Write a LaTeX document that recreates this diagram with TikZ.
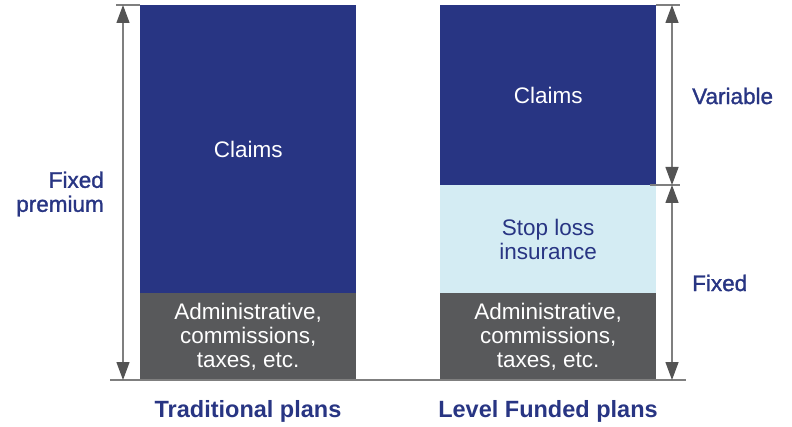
\documentclass[tikz,border=0pt]{standalone}
\usepackage{fontspec}
\setmainfont{Liberation Sans}
\newfontfamily\mediumfont[BoldFont={Liberation Sans}, BoldFeatures={FakeBold=1.3}]{Liberation Sans}
\usetikzlibrary{arrows.meta}

\definecolor{navy}{HTML}{283583}
\definecolor{slate}{HTML}{58595B}
\definecolor{pale}{HTML}{D4ECF3}
\definecolor{rulegray}{HTML}{7F7F7F}
\definecolor{tipgray}{HTML}{545454}

\begin{document}
\begin{tikzpicture}[x=1pt,y=-1pt,
  bar/.style={rectangle, inner sep=0pt, minimum width=216pt, anchor=north west, align=center, font=\fontsize{22.5}{24}\selectfont},
  side/.style={inner sep=0pt, text=navy, font=\mediumfont\bfseries\fontsize{22.5}{24}\selectfont},
  plan/.style={inner sep=0pt, text=navy, font=\bfseries\fontsize{23.5}{26}\selectfont},
  tick/.style={line width=1.3pt, draw=rulegray},
  span/.style={tick, {Triangle[length=18pt,width=13pt,fill=tipgray,color=tipgray]}-{Triangle[length=18pt,width=13pt,fill=tipgray,color=tipgray]}}]
\useasboundingbox (0,0) rectangle (792,427);

% bars
\node[bar, fill=navy, text=white, minimum height=288pt] (tclaims) at (140,5) {Claims};
\node[bar, fill=slate, text=white, minimum height=87pt] (tadmin) at (140,293) {Administrative,\\commissions,\\taxes, etc.};
\node[bar, fill=navy, text=white, minimum height=180pt] (lclaims) at (440,5) {Claims};
\node[bar, fill=pale, text=navy, minimum height=108pt] (lstop) at (440,185) {Stop loss\\insurance};
\node[bar, fill=slate, text=white, minimum height=87pt] (ladmin) at (440,293) {Administrative,\\commissions,\\taxes, etc.};

\coordinate (A) at (123,5);
\coordinate (B) at (123,380);
\coordinate (C) at (672,5);
\coordinate (D) at (672,185);
\coordinate (E) at (672,380);

% ticks and baseline
\draw[tick] (116,5) -- (tclaims.north west);
\draw[tick] (lclaims.north east) -- (680,5);
\draw[tick] (650,185) -- (680,185);
\draw[tick] (110,380) -- (686,380);

\draw[span] (A) -- (B);
\draw[span] (C) -- (D);
\draw[span] (D) -- (E);

\node[side, align=right, anchor=east] (fixedprem) at (104,194) {Fixed\\premium};
\node[side, anchor=west] (variable) at (692,96) {Variable};
\node[side, anchor=west] (fixed) at (692,283) {Fixed};

\node[plan] (trad) at (248,411) {Traditional plans};
\node[plan] (level) at (548,411) {Level Funded plans};
\end{tikzpicture}
\end{document}
